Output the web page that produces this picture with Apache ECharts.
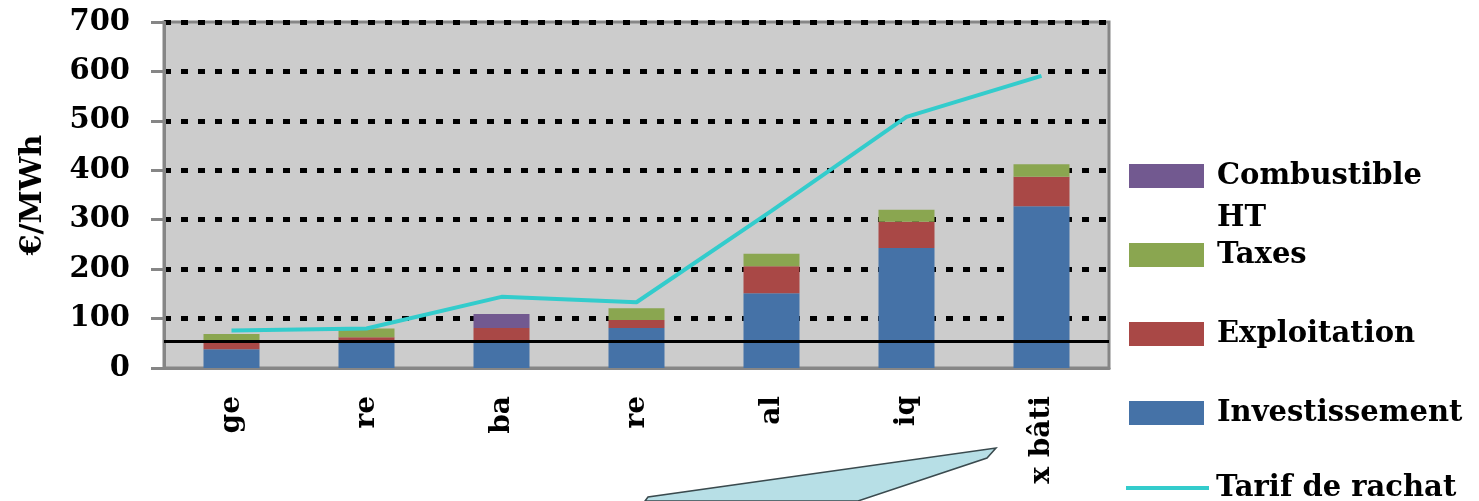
<!DOCTYPE html>
<html>
<head>
<meta charset="utf-8">
<script src="https://cdn.jsdelivr.net/npm/echarts@6/dist/echarts.min.js"></script>
<style>
  html, body { margin: 0; padding: 0; background: #fff; }
  #chart { width: 1479px; height: 501px; }
</style>
</head>
<body>
<div id="chart"></div>
<script>
// catégories (étiquettes tronquées comme sur l'image)
var categories = ['ge', 're', 'ba', 're', 'al', 'iq', 'x bâti'];

// coûts empilés, €/MWh
var investissement = [38, 53, 53, 81, 151, 243, 327];
var exploitation   = [15, 9, 28, 16, 55, 53, 60];
var taxes          = [16, 18, null, 24, 25, 24, 25];
var combustible    = [null, null, 28, null, null, null, null];

// tarif de rachat
var tarif = [76, 80, 144, 133, 318, 508, 591];

// repère horizontal
var seuil = 54;

var yTicks = { min: 0, max: 700, interval: 100 };

var FONT = 'DejaVu Serif';
var GREY = '#868686';
var CYAN = '#33cccc';

var chart = echarts.init(document.getElementById('chart'), null, { renderer: 'canvas' });

function stack(name, data, color) {
  return {
    name: name,
    type: 'bar',
    stack: 'cout',
    data: data,
    barWidth: 56,
    itemStyle: { color: color },
    z: 2
  };
}

function legendText(pad) {
  return {
    fontFamily: FONT, fontWeight: 'bold', fontSize: 29,
    color: '#000', lineHeight: 30, padding: [0, 0, 0, pad]
  };
}

var option = {
  animation: false,
  textStyle: { fontFamily: FONT },
  grid: {
    left: 164, right: 370, top: 22, bottom: 133,
    show: true,
    backgroundColor: '#cccccc',
    borderColor: GREY,
    borderWidth: 3
  },
  legend: [
    {
      orient: 'vertical',
      left: 1124,
      top: 156,
      itemWidth: 75,
      itemHeight: 24,
      itemGap: 49,
      icon: 'rect',
      data: ['Combustible', 'Taxes', 'Exploitation', 'Investissement'],
      textStyle: legendText(8)
    },
    {
      orient: 'vertical',
      left: 1121,
      top: 468,
      itemWidth: 83,
      itemHeight: 4,
      data: [{ name: 'Tarif de rachat', icon: 'rect', itemStyle: { color: CYAN } }],
      textStyle: legendText(2)
    }
  ],
  graphic: [
    {
      type: 'text', left: 1217, top: 204,
      style: { text: 'HT', font: 'bold 29px "DejaVu Serif"', fill: '#000' }
    },
    {
      // flèche décorative en bas
      type: 'polygon', z: 10,
      shape: { points: [[645, 501], [648, 497], [996, 448], [987, 458], [858, 501]] },
      style: { fill: '#b7dfe6', stroke: '#3a4a4e', lineWidth: 1.5 }
    }
  ],
  xAxis: {
    type: 'category',
    data: categories,
    axisLine: { lineStyle: { color: GREY, width: 3 } },
    axisTick: { length: 13, lineStyle: { color: GREY, width: 3 } },
    axisLabel: {
      rotate: 90, margin: 28, interval: 0,
      color: '#000', fontFamily: FONT, fontWeight: 'bold', fontSize: 28
    }
  },
  yAxis: {
    type: 'value',
    min: yTicks.min, max: yTicks.max, interval: yTicks.interval,
    name: '€/MWh',
    nameLocation: 'middle',
    nameGap: 116,
    nameRotate: 90,
    nameTextStyle: { color: '#000', fontFamily: FONT, fontWeight: 'bold', fontSize: 30 },
    axisLine: { show: true, lineStyle: { color: GREY, width: 3 } },
    axisTick: { show: true, length: 13, lineStyle: { color: GREY, width: 3 } },
    axisLabel: {
      margin: 34, color: '#000',
      fontFamily: FONT, fontWeight: 'bold', fontSize: 29
    },
    splitLine: {
      show: true, showMinLine: false,
      lineStyle: { color: '#000', width: 5, type: [7, 10] }
    }
  },
  series: [
    stack('Investissement', investissement, '#4572a7'),
    stack('Exploitation', exploitation, '#a94846'),
    stack('Taxes', taxes, '#8aa650'),
    stack('Combustible', combustible, '#725990'),
    {
      name: 'Tarif de rachat',
      type: 'line',
      data: tarif,
      symbol: 'none',
      lineStyle: { color: CYAN, width: 4 },
      itemStyle: { color: CYAN },
      z: 4,
      markLine: {
        silent: true,
        symbol: 'none',
        label: { show: false },
        lineStyle: { color: '#000', width: 3, type: 'solid' },
        data: [{ yAxis: seuil }]
      }
    }
  ]
};

chart.setOption(option);
</script>
</body>
</html>
